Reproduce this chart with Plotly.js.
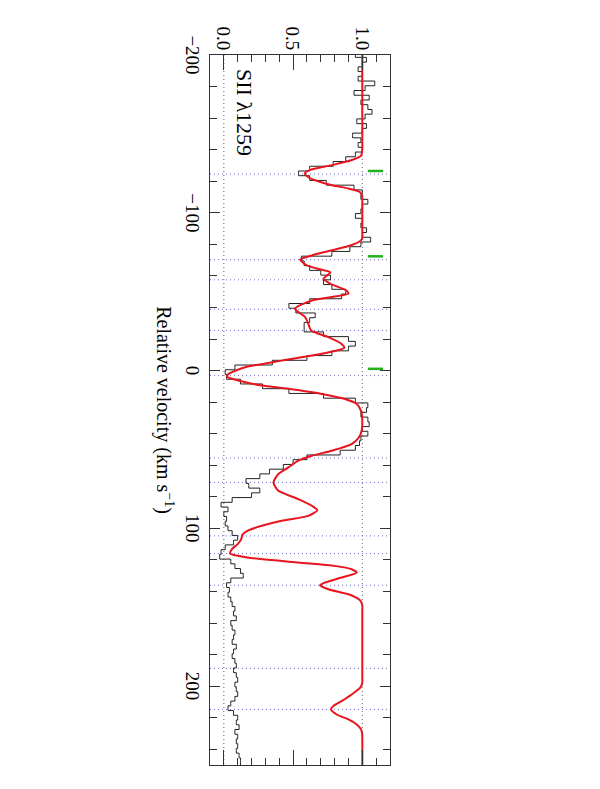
<!DOCTYPE html>
<html>
<head>
<meta charset="utf-8">
<script src="https://cdn.plot.ly/plotly-3.0.1.min.js"></script>
<style>
  html, body { margin: 0; padding: 0; background: #fff; overflow: hidden; }
  #wrap { width: 600px; height: 789px; position: relative; }
  /* the figure is drawn landscape and turned a quarter clockwise */
  #chart { position: absolute; left: 0; top: 0; width: 789px; height: 600px;
           transform-origin: 0 0; transform: translateX(600px) rotate(90deg); }
</style>
</head>
<body>
<div id="wrap"><div id="chart"></div></div>
<script>
// observed spectrum, bin centres (km/s) and normalised flux
const velocity = [
  -200,-197,-194,-191,-188,-185,-182,-179,-176,-173,-170,-167,-164,-161,-158,-155,-152,-149,-146,-143,-140,-137,-134,-131,-128,
  -125,-122,-119,-116,-113,-110,-107,-104,-101,-98,-95,-92,-89,-86,-83,-80,-77,-74,-71,-68,-65,-62,-59,-56,-53,-50,
  -47,-44,-41,-38,-35,-32,-29,-26,-23,-20,-17,-14,-11,-8,-5,-2,1,4,7,10,13,16,19,22,25,
  28,31,34,37,40,43,46,49,52,55,58,61,64,67,70,73,76,79,82,85,88,91,94,97,100,
  103,106,109,112,115,118,121,124,127,130,133,136,139,142,145,148,151,154,157,160,163,166,169,172,175,
  178,181,184,187,190,193,196,199,202,205,208,211,214,217,220,223,226,229,232,235,238,241,244,247,250
];
const flux = [
  0.95,1.03,1.0,0.97,1.0,0.97,1.09,1.02,0.94,1.05,0.99,1.04,1.07,1.02,0.96,1.03,1.0,0.93,0.99,0.97,1.0,0.95,0.88,0.79,0.62,
  0.54,0.62,0.74,0.94,1.0,0.99,1.04,1.0,0.99,0.95,1.0,0.99,1.03,1.0,1.06,0.99,0.91,0.78,0.56,0.58,0.62,0.70,0.77,0.72,0.78,0.88,
  0.85,0.62,0.47,0.52,0.66,0.62,0.58,0.58,0.72,0.90,0.95,0.90,0.78,0.60,0.35,0.08,0.01,0.02,0.12,0.28,0.47,0.72,0.95,1.04,1.03,
  0.99,1.04,1.05,1.0,1.04,0.99,0.98,0.95,0.84,0.60,0.50,0.43,0.33,0.26,0.16,0.18,0.26,0.20,0.06,-0.02,0.03,0.0,0.02,0.01,0.03,
  0.06,0.10,0.07,0.01,-0.02,-0.03,0.05,0.08,0.12,0.14,0.05,0.02,0.04,0.03,0.05,0.06,0.08,0.07,0.09,0.05,0.06,0.08,0.07,0.06,0.09,
  0.07,0.06,0.08,0.09,0.07,0.09,0.10,0.08,0.09,0.10,0.08,0.05,0.03,0.07,0.10,0.09,0.11,0.08,0.10,0.09,0.10,0.09,0.11,0.12,0.12
];

// fitted profile (red)
const modelV = [-200,-145,-140,-136,-133.3,-130.2,-127,-125,-122.5,-120.6,-117.5,-115.4,-113.3,-111,-108,
  -88,-84,-82.5,-79.4,-76.2,-73,-70.3,-66.7,-64,-62.2,-58.2,-55,-50.8,-48.7,-44.4,-39.2,-33.9,-29.6,-25.4,
  -21.2,-16.9,-14.4,-10.6,-6.3,-2.1,2.1,3.8,6.3,9.5,11.6,14.8,18,21.2,25.4,31.7,38.1,42.3,46.6,50.8,
  54,57.1,61.4,65.6,70.9,76.2,81.5,85.7,88.5,92.1,95.2,98.4,101.6,104,107,110,113,116,118.5,121.7,
  123.8,125.9,128,131.2,134.4,136,138.6,141.8,145,146.8,149,153,194,198,201,205.3,209.5,212.7,214.8,218,221.1,224.3,
  227,229.5,233,250];
const modelF = [1.0,1.0,1.0,0.99,0.92,0.78,0.62,0.585,0.61,0.66,0.78,0.90,0.98,0.998,1.0,
  1.0,1.0,0.99,0.92,0.78,0.635,0.55,0.60,0.70,0.77,0.72,0.77,0.885,0.9,0.635,0.514,0.587,0.61,0.63,
  0.755,0.85,0.87,0.707,0.418,0.154,0.034,0.022,0.106,0.274,0.466,0.707,0.875,0.96,0.99,1.0,0.995,0.976,0.923,0.779,
  0.635,0.538,0.466,0.394,0.358,0.394,0.538,0.635,0.675,0.61,0.418,0.274,0.17,0.135,0.125,0.1,0.06,0.045,0.17,0.538,
  0.8,0.923,0.96,0.85,0.73,0.695,0.755,0.9,0.975,0.993,1.0,1.0,1.0,1.0,0.985,0.923,0.85,0.79,0.774,0.815,0.9,0.96,
  0.988,0.998,1.0,1.0];

// component velocities and marked features
const components = [-124.5,-70.3,-57.5,-38.8,-25.4,3.2,55.4,70.9,104.8,116,136.1,188.8,214.8];
const markers = [-126.5,-72.4,-1.1];
const levels = [0, 1];

const shapes = [];
components.forEach(function(v) {
    shapes.push({type: 'line', xref: 'x', yref: 'paper', x0: v, x1: v, y0: 0, y1: 1,
        layer: 'below', line: {color: '#7070d0', width: 1, dash: '1px,3px'}});
});
levels.forEach(function(f) {
    shapes.push({type: 'line', xref: 'paper', yref: 'y', x0: 0, x1: 1, y0: f, y1: f,
        layer: 'below', line: {color: '#666666', width: 1, dash: '1px,3px'}});
});
markers.forEach(function(v) {
    shapes.push({type: 'line', xref: 'x', yref: 'y', x0: v, x1: v, y0: 1.04, y1: 1.15,
        line: {color: '#22b022', width: 2.5}});
});

const spectrum = {
    x: velocity, y: flux, type: 'scatter', mode: 'lines',
    line: {color: '#222222', width: 1, shape: 'hvh'}, hoverinfo: 'skip'
};
const model = {
    x: modelV, y: modelF, type: 'scatter', mode: 'lines',
    line: {color: '#e8141e', width: 2, shape: 'spline', smoothing: 0.6}, hoverinfo: 'skip'
};

const serif = 'Liberation Serif, Times New Roman, serif';
const layout = {
    width: 789, height: 600,
    margin: {l: 55, r: 24, t: 210, b: 210},
    paper_bgcolor: '#ffffff', plot_bgcolor: '#ffffff',
    showlegend: false,
    font: {family: serif, size: 19, color: '#000'},
    xaxis: {
        range: [-200, 250], tick0: 0, dtick: 100,
        ticks: 'inside', ticklen: 10, tickcolor: '#333', mirror: 'allticks',
        minor: {dtick: 20, ticks: 'inside', ticklen: 7, tickcolor: '#333'},
        showline: true, linecolor: '#333', linewidth: 1,
        showgrid: false, zeroline: false,
        tickfont: {family: serif, size: 19},
        title: {text: 'Relative velocity (km s<sup>\u22121</sup>)', font: {family: serif, size: 20}, standoff: 12}
    },
    yaxis: {
        range: [-0.1, 1.2], tick0: 0, dtick: 0.5, tickformat: '.1f',
        ticks: 'inside', ticklen: 15, tickcolor: '#333', mirror: 'allticks',
        minor: {dtick: 0.1, ticks: 'inside', ticklen: 7, tickcolor: '#333'},
        showline: true, linecolor: '#333', linewidth: 1,
        showgrid: false, zeroline: false,
        tickfont: {family: serif, size: 19}
    },
    shapes: shapes,
    annotations: [{
        text: 'SII \u03bb1259', xref: 'x', yref: 'y', x: -192.5, y: 0.15,
        xanchor: 'left', yanchor: 'middle', showarrow: false,
        font: {family: serif, size: 22, color: '#000'}
    }]
};

Plotly.newPlot('chart', [spectrum, model], layout, {staticPlot: true, displayModeBar: false});
</script>
</body>
</html>
